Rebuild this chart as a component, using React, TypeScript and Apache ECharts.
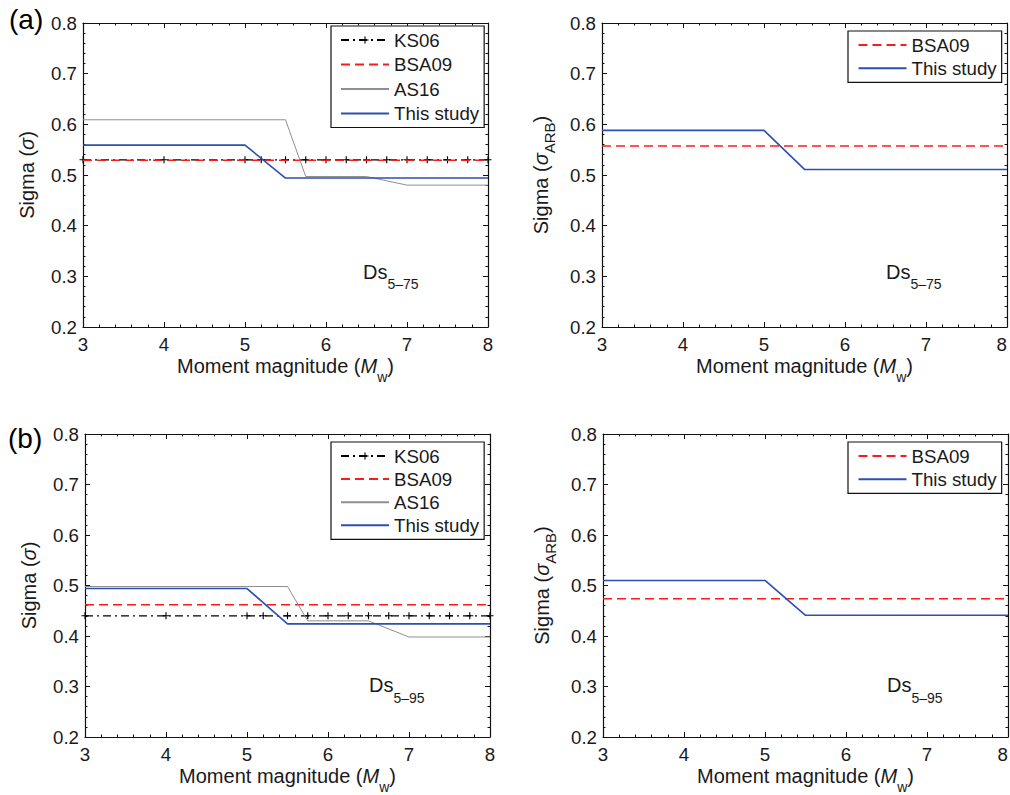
import React, { useEffect, useRef } from "react";
import * as echarts from "echarts";

// ---------- data ----------
const ks06Mw = [3, 4, 5, 5.2, 5.5, 5.75, 6, 6.25, 6.5, 6.75, 7, 7.25, 7.5, 7.75, 8];
const ks06Sigma575 = [0.53, 0.53, 0.53, 0.53, 0.53, 0.53, 0.53, 0.53, 0.53, 0.53, 0.53, 0.53, 0.53, 0.53, 0.53];
const ks06Sigma595 = [0.44, 0.44, 0.44, 0.44, 0.44, 0.44, 0.44, 0.44, 0.44, 0.44, 0.44, 0.44, 0.44, 0.44, 0.44];

const bsa09Mw = [3, 8];
const bsa09Sigma575 = [0.529, 0.529];
const bsa09Sigma595 = [0.462, 0.462];
const bsa09Arb575 = [0.557, 0.557];
const bsa09Arb595 = [0.474, 0.474];

const as16Mw = [3, 5.5, 5.75, 6.5, 7, 8];
const as16Sigma575 = [0.609, 0.609, 0.497, 0.497, 0.48, 0.48];
const as16Sigma595 = [0.498, 0.498, 0.43, 0.43, 0.398, 0.398];

const studyMw = [3, 5, 5.5, 8];
const studySigma575 = [0.559, 0.559, 0.494, 0.494];
const studySigma595 = [0.494, 0.494, 0.424, 0.424];
const studyArb575 = [0.588, 0.588, 0.511, 0.511];
const studyArb595 = [0.51, 0.51, 0.441, 0.441];

const xRange = [3, 8];
const xStep = 1;
const yRange = [0.2, 0.8];
const yStep = 0.1;

const panelLabels = ["(a)", "(b)"];
const durationLabels = ["5–75", "5–95"];
const legendFull = ["KS06", "BSA09", "AS16", "This study"];
const legendArb = ["BSA09", "This study"];

// ---------- styles ----------
const FONT = "'Liberation Sans', Arial, Helvetica, sans-serif";
const BLUE = "#2c4fb2";
const RED = "#ff1a1a";
const GRAY = "#8f8f8f";
const TXT = "#1a1a1a";
const TICK_FS = 18.7;
const TITLE_FS = 20;

const grids = [
  { left: 83, top: 23, width: 405, height: 304 },
  { left: 602, top: 23, width: 405, height: 304 },
  { left: 85, top: 434, width: 405, height: 303 },
  { left: 603, top: 434, width: 405, height: 303 },
];

const plusPath = "path://M4.2,0H5.8V4.2H10V5.8H5.8V10H4.2V5.8H0V4.2H4.2Z";

function pairs(xs: number[], ys: number[]) {
  return xs.map((x, i) => [x, ys[i]]);
}

function ks06(g: number, ys: number[]) {
  return {
    name: "KS06",
    type: "line",
    xAxisIndex: 2 * g,
    yAxisIndex: 2 * g,
    data: pairs(ks06Mw, ys),
    symbol: plusPath,
    symbolSize: 7,
    itemStyle: { color: "#000" },
    lineStyle: { color: "#000", width: 1.2, type: [8, 4, 2, 4] },
    z: 2,
  };
}
function bsa09(g: number, ys: number[]) {
  return {
    name: "BSA09",
    type: "line",
    xAxisIndex: 2 * g,
    yAxisIndex: 2 * g,
    data: pairs(bsa09Mw, ys),
    symbol: "none",
    itemStyle: { color: RED },
    lineStyle: { color: RED, width: 1.5, type: [9, 5] },
    z: 3,
  };
}
function as16(g: number, ys: number[]) {
  return {
    name: "AS16",
    type: "line",
    xAxisIndex: 2 * g,
    yAxisIndex: 2 * g,
    data: pairs(as16Mw, ys),
    symbol: "none",
    itemStyle: { color: GRAY },
    lineStyle: { color: GRAY, width: 1 },
    z: 4,
  };
}
function study(g: number, ys: number[]) {
  return {
    name: "This study",
    type: "line",
    xAxisIndex: 2 * g,
    yAxisIndex: 2 * g,
    data: pairs(studyMw, ys),
    symbol: "none",
    itemStyle: { color: BLUE },
    lineStyle: { color: BLUE, width: 1.6 },
    z: 5,
  };
}

function xAxes(g: number) {
  const base = {
    type: "value",
    gridIndex: g,
    min: xRange[0],
    max: xRange[1],
    interval: xStep,
    splitLine: { show: false },
    axisLine: { show: true, onZero: false, lineStyle: { color: "#111", width: 1.2 } },
    axisTick: { show: true, inside: true, length: 5, lineStyle: { color: "#111" } },
    minorTick: { show: true, splitNumber: 5, length: 2.5, lineStyle: { color: "#111" } },
  };
  const atEdge = g === 1 || g === 3;
  return [
    {
      ...base,
      position: "bottom",
      axisLabel: {
        show: true,
        margin: 8,
        fontSize: TICK_FS,
        fontFamily: FONT,
        color: TXT,
        alignMaxLabel: atEdge ? "right" : null,
      },
    },
    { ...base, position: "top", axisLabel: { show: false } },
  ];
}
function yAxes(g: number) {
  const base = {
    type: "value",
    gridIndex: g,
    min: yRange[0],
    max: yRange[1],
    interval: yStep,
    splitLine: { show: false },
    axisLine: { show: true, onZero: false, lineStyle: { color: "#111", width: 1.2 } },
    axisTick: { show: true, inside: true, length: 5, lineStyle: { color: "#111" } },
    minorTick: { show: true, splitNumber: 5, length: 2.5, lineStyle: { color: "#111" } },
  };
  return [
    {
      ...base,
      position: "left",
      axisLabel: {
        show: true,
        margin: 6,
        fontSize: TICK_FS,
        fontFamily: FONT,
        color: TXT,
        formatter: (v: number) => v.toFixed(1),
      },
    },
    { ...base, position: "right", axisLabel: { show: false } },
  ];
}

function legend(names: string[], left: number, top: number, gap: number, padLeft: number) {
  return {
    show: true,
    orient: "vertical",
    left,
    top,
    data: names.map((n) =>
      n === "KS06" ? { name: n } : { name: n, itemStyle: { opacity: 0 } }
    ),
    selectedMode: false,
    itemWidth: 48,
    itemHeight: 9,
    itemGap: gap,
    padding: [4, 5, 4, padLeft],
    borderColor: "#111",
    borderWidth: 1.2,
    borderRadius: 0,
    backgroundColor: "#fff",
    textStyle: { fontSize: TICK_FS, fontFamily: FONT, color: TXT, lineHeight: 20 },
  };
}

const richBase = {
  a: { fontSize: TITLE_FS, fontFamily: FONT, fill: TXT, lineHeight: 22 },
  i: { fontSize: TITLE_FS, fontFamily: FONT, fontStyle: "italic", fill: TXT, lineHeight: 22 },
};

function xTitle(g: number) {
  const gr = grids[g];
  return {
    type: "text",
    x: gr.left + gr.width / 2,
    y: gr.top + gr.height + 39,
    style: {
      text: "{a|Moment magnitude (}{i|M}{s|w}{a|)}",
      align: "center",
      verticalAlign: "middle",
      rich: {
        ...richBase,
        s: { fontSize: 14, fontFamily: FONT, fill: TXT, lineHeight: 14, padding: [22, 0, 0, 0] },
      },
    },
  };
}
function yTitle(g: number, arb: boolean, cx: number) {
  const gr = grids[g];
  return {
    type: "text",
    x: cx,
    y: gr.top + gr.height / 2,
    rotation: Math.PI / 2,
    style: {
      text: arb ? "{a|Sigma (}{i|σ}{s|ARB}{a|)}" : "{a|Sigma (}{i|σ}{a|)}",
      align: "center",
      verticalAlign: "middle",
      rich: {
        ...richBase,
        s: { fontSize: 15, fontFamily: FONT, fill: TXT, lineHeight: 15, padding: [16, 0, 0, 0] },
      },
    },
  };
}
function dsNote(x: number, y: number, sub: string) {
  return {
    type: "text",
    x,
    y,
    style: {
      text: "{a|Ds}{s|" + sub + "}",
      align: "left",
      verticalAlign: "middle",
      rich: {
        a: { fontSize: 20, fontFamily: FONT, fill: TXT, lineHeight: 22 },
        s: { fontSize: 14, fontFamily: FONT, fill: TXT, lineHeight: 14, padding: [25, 0, 0, 0] },
      },
    },
  };
}
function panelLabel(text: string, x: number, y: number) {
  return {
    type: "text",
    x,
    y,
    style: {
      text,
      fontSize: 28,
      fontFamily: FONT,
      fill: "#000",
      align: "left",
      verticalAlign: "middle",
    },
  };
}

export default function App() {
  const ref = useRef<HTMLDivElement>(null);
  useEffect(() => {
    if (!ref.current) return;
    const chart = echarts.init(ref.current, undefined, { renderer: "svg" });
    const option: any = {
      animation: false,
      backgroundColor: "#fff",
      grid: grids.map((g) => ({ ...g, containLabel: false, outerBoundsMode: "none" })),
      xAxis: [...xAxes(0), ...xAxes(1), ...xAxes(2), ...xAxes(3)],
      yAxis: [...yAxes(0), ...yAxes(1), ...yAxes(2), ...yAxes(3)],
      legend: [
        legend(legendFull, 331, 26, 4.5, 9),
        legend(legendArb, 848, 31, 3.3, 9.5),
        legend(legendFull, 331, 442, 3.1, 9),
        legend(legendArb, 848, 442, 3.3, 9.5),
      ],
      series: [
        ks06(0, ks06Sigma575),
        bsa09(0, bsa09Sigma575),
        as16(0, as16Sigma575),
        study(0, studySigma575),
        bsa09(1, bsa09Arb575),
        study(1, studyArb575),
        ks06(2, ks06Sigma595),
        bsa09(2, bsa09Sigma595),
        as16(2, as16Sigma595),
        study(2, studySigma595),
        bsa09(3, bsa09Arb595),
        study(3, studyArb595),
      ],
      graphic: [
        panelLabel(panelLabels[0], 9, 19),
        panelLabel(panelLabels[1], 8, 438),
        xTitle(0),
        xTitle(1),
        xTitle(2),
        xTitle(3),
        yTitle(0, false, 27),
        yTitle(1, true, 541),
        yTitle(2, false, 28.5),
        yTitle(3, true, 542),
        dsNote(363, 271.5, durationLabels[0]),
        dsNote(886, 271.5, durationLabels[0]),
        dsNote(369, 685, durationLabels[1]),
        dsNote(887, 685, durationLabels[1]),
      ],
    };
    chart.setOption(option);
    return () => chart.dispose();
  }, []);
  return (
    <div
      ref={ref}
      style={{ position: "absolute", left: 0, top: 0, width: 1010, height: 795, background: "#fff" }}
    />
  );
}
